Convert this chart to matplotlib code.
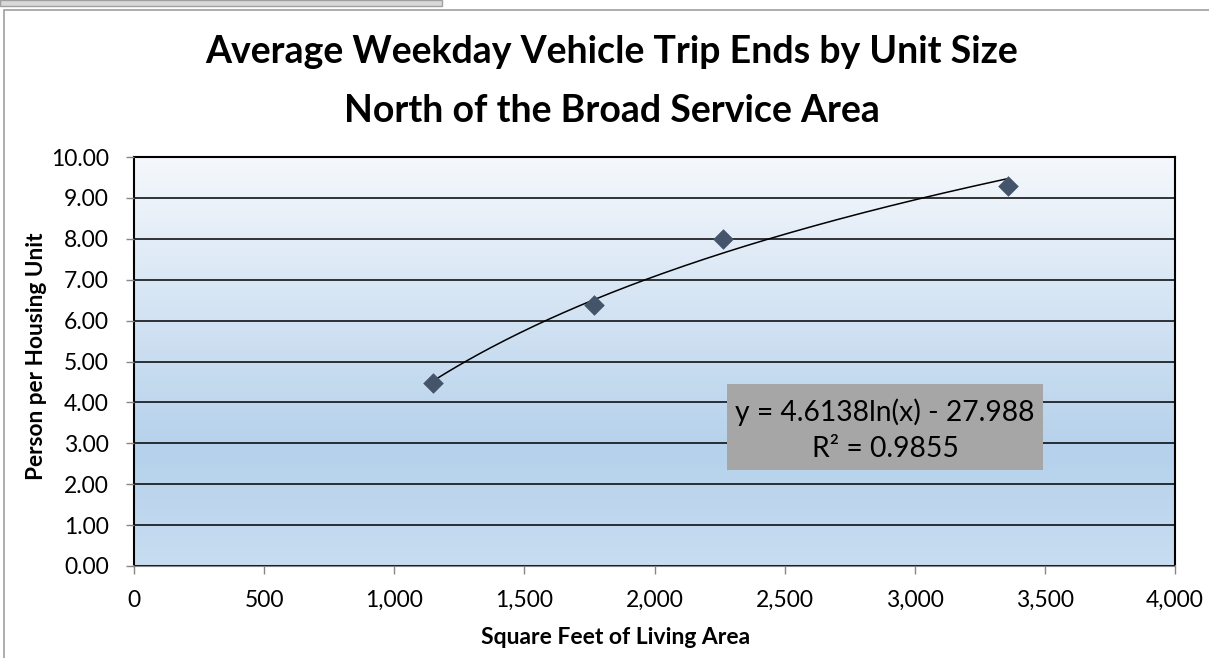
import numpy as np
import matplotlib
matplotlib.use("Agg")
import matplotlib.pyplot as plt
from matplotlib.patches import Rectangle
from matplotlib.colors import LinearSegmentedColormap

# ---- data ----
sqft = [1150, 1768, 2264, 3358]
persons = [4.47, 6.38, 8.00, 9.28]
coef_a = 4.6138
coef_b = -27.988
r_squared = 0.9855
title_lines = ["Average Weekday Vehicle Trip Ends by Unit Size", "North of the Broad Service Area"]
x_label = "Square Feet of Living Area"
y_label = "Person per Housing Unit"
x_ticks = [0, 500, 1000, 1500, 2000, 2500, 3000, 3500, 4000]
y_ticks = [0, 1, 2, 3, 4, 5, 6, 7, 8, 9, 10]

plt.rcParams['font.family'] = ['Lato', 'DejaVu Sans']

W, H = 1209, 658
fig = plt.figure(figsize=(W / 100, H / 100), dpi=100)

# outer decorations
fig.patches.append(Rectangle((0, 1 - 6 / H), 442 / W, 6 / H, transform=fig.transFigure,
                             facecolor='#d9d9d9', edgecolor='#a0a0a0', lw=1))
fig.patches.append(Rectangle((4 / W, -0.01), 1.01, 1 - 10 / H + 0.01, transform=fig.transFigure,
                             facecolor='none', edgecolor='#a0a0a0', lw=1.2))

L, R, T, B = 134, 1175, 157, 566
ax = fig.add_axes([L / W, 1 - B / H, (R - L) / W, (B - T) / H])

# gradient background
cmap = LinearSegmentedColormap.from_list('bg', [(0, '#c8ddf1'), (0.28, '#b5d1eb'), (1.0, '#f5f8fc')])
grad = np.linspace(0, 1, 256).reshape(-1, 1)
ax.imshow(grad, extent=[0, 4000, 0, 10], origin='lower', aspect='auto', cmap=cmap, zorder=0)

ax.set_xlim(0, 4000)
ax.set_ylim(0, 10)
ax.set_xticks(x_ticks)
ax.set_yticks(y_ticks)
ax.set_xticklabels([f"{v:,}" for v in x_ticks])
ax.set_yticklabels([f"{v:.2f}" for v in y_ticks])
ax.tick_params(axis='both', direction='out', length=6, width=1, color='#868686',
               labelsize=16.5, labelcolor='black')
ax.tick_params(axis='y', pad=12)
ax.tick_params(axis='x', pad=11)

ax.grid(axis='y', color='black', lw=1.1, zorder=1)
ax.set_axisbelow(False)
for s in ['top', 'right', 'left']:
    ax.spines[s].set_color('black')
    ax.spines[s].set_linewidth(1.5)
ax.spines['bottom'].set_color('#868686')
ax.spines['bottom'].set_linewidth(1.5)

# trendline
xs = np.linspace(min(sqft), max(sqft), 200)
ax.plot(xs, coef_a * np.log(xs) + coef_b, color='black', lw=1.1, zorder=3)
ax.scatter(sqft, persons, marker='D', s=110, color='#44546a', zorder=4, linewidths=0)

# equation box
bx0, bx1 = (727 - L) / (R - L), (1043 - L) / (R - L)
by0, by1 = (B - 470) / (B - T), (B - 384) / (B - T)
ax.add_patch(Rectangle((bx0, by0), bx1 - bx0, by1 - by0, transform=ax.transAxes,
                       facecolor='#a6a6a6', edgecolor='none', zorder=5))
xc = (bx0 + bx1) / 2
ax.text(xc, (B - 421) / (B - T), f"y = {coef_a}ln(x) - {abs(coef_b)}",
        transform=ax.transAxes, ha='center', va='baseline', fontsize=20.3, zorder=6)
ax.text(xc, (B - 457) / (B - T), f"R² = {r_squared}",
        transform=ax.transAxes, ha='center', va='baseline', fontsize=20.3, zorder=6)

ax.set_xlabel(x_label, fontsize=16.5, fontweight='bold')
ax.set_ylabel(y_label, fontsize=16.3, fontweight='bold')
ax.xaxis.set_label_coords((616 - L) / (R - L), -(644 - B) / (B - T), transform=ax.transAxes)
ax.xaxis.label.set_va('baseline')
ax.yaxis.set_label_coords(-(L - 37) / (R - L), (B - 356) / (B - T), transform=ax.transAxes)
ax.yaxis.label.set_va('center')

fig.text(612 / W, 1 - 63 / H, title_lines[0], ha='center', va='baseline', fontsize=27, fontweight='bold')
fig.text(612 / W, 1 - 122 / H, title_lines[1], ha='center', va='baseline', fontsize=27, fontweight='bold')

fig.savefig('out.png', dpi=100, facecolor='white')
